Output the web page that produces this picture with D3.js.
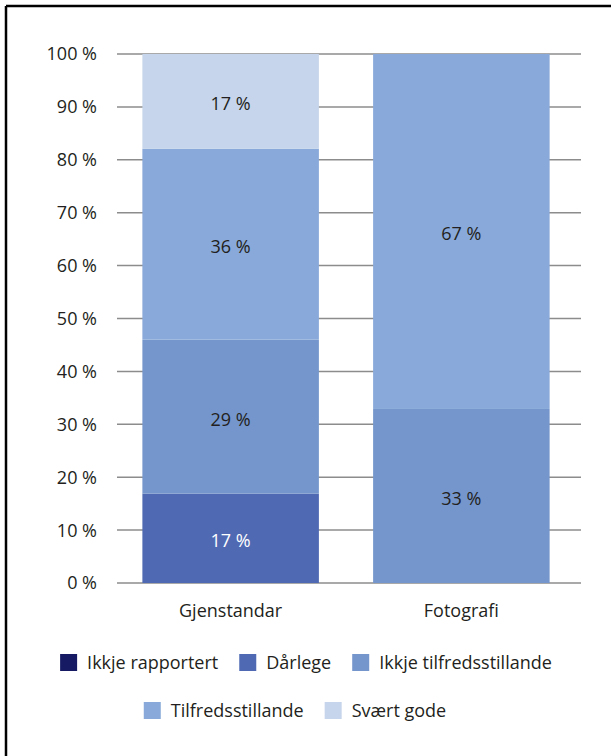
<!DOCTYPE html>
<html>
<head>
<meta charset="utf-8">
<script src="https://cdn.jsdelivr.net/npm/d3@7"></script>
<style>
  html, body { margin: 0; padding: 0; background: #fff; }
  svg { display: block; font-family: "Open Sans", "Noto Sans", sans-serif; }
</style>
</head>
<body>
<svg id="chart" width="611" height="756"></svg>
<script>
const categories = ["Gjenstandar", "Fotografi"];
const seriesNames = ["Ikkje rapportert", "Dårlege", "Ikkje tilfredsstillande", "Tilfredsstillande", "Svært gode"];
const seriesColors = ["#151a63", "#4f6ab3", "#7596cc", "#88a9d9", "#c6d5eb"];
const labelColors = ["#fff", "#fff", "#231f20", "#231f20", "#231f20"];
// values per series, in order of categories (bar heights)
const ikkjeRapportert = [0, 0];
const darlege = [16.9, 0];
const ikkjeTilfreds = [29.1, 32.9];
const tilfreds = [36.1, 67.1];
const svaertGode = [17.9, 0];
// printed value labels, as shown in the picture
const ikkjeRapportertLabels = [null, null];
const darlegeLabels = ["17 %", null];
const ikkjeTilfredsLabels = ["29 %", "33 %"];
const tilfredsLabels = ["36 %", "67 %"];
const svaertGodeLabels = ["17 %", null];
const yTicks = [0, 10, 20, 30, 40, 50, 60, 70, 80, 90, 100];

const seriesValues = [ikkjeRapportert, darlege, ikkjeTilfreds, tilfreds, svaertGode];
const seriesLabels = [ikkjeRapportertLabels, darlegeLabels, ikkjeTilfredsLabels, tilfredsLabels, svaertGodeLabels];
const rows = categories.map((c, i) => {
  const r = { cat: c, idx: i };
  seriesNames.forEach((s, j) => r[s] = seriesValues[j][i]);
  return r;
});

const FS = 18;
const svg = d3.select("#chart");
// frame
svg.append("line").attr("x1", 6).attr("x2", 611).attr("y1", 6).attr("y2", 6).attr("stroke", "#000").attr("stroke-width", 2.5);
svg.append("line").attr("x1", 6).attr("x2", 6).attr("y1", 6).attr("y2", 756).attr("stroke", "#000").attr("stroke-width", 2.5);

const x0 = 117, x1 = 581;
const y = d3.scaleLinear().domain([0, 100]).range([583, 54]);
const x = d3.scaleBand().domain(categories).range([x0, x1 - 6]).paddingInner(0.235).paddingOuter(0.11);

// grid
svg.append("g").selectAll("line").data(yTicks).join("line")
  .attr("x1", x0).attr("x2", x1)
  .attr("y1", d => y(d)).attr("y2", d => y(d))
  .attr("stroke", "#8c8c8c").attr("stroke-width", 1.5);

// y labels
svg.append("g").selectAll("text").data(yTicks).join("text")
  .attr("x", 97).attr("y", d => y(d)).attr("dy", "0.36em")
  .attr("text-anchor", "end").attr("font-size", FS).attr("fill", "#231f20")
  .text(d => d + " %");

const stack = d3.stack().keys(seriesNames)(rows);

const layers = svg.append("g").selectAll("g").data(stack).join("g")
  .attr("fill", (d, i) => seriesColors[i]);
layers.selectAll("rect").data(d => d).join("rect")
  .attr("x", d => x(d.data.cat))
  .attr("width", x.bandwidth())
  .attr("y", d => y(Math.min(d[1], 100)))
  .attr("height", d => Math.max(0, y(d[0]) - y(Math.min(d[1], 100))));

// value labels
stack.forEach((layer, i) => {
  svg.append("g").selectAll("text").data(layer.filter(d => seriesLabels[i][d.data.idx])).join("text")
    .attr("x", d => x(d.data.cat) + x.bandwidth() / 2)
    .attr("y", d => y((d[0] + Math.min(d[1], 100)) / 2))
    .attr("dy", "0.5em")
    .attr("text-anchor", "middle").attr("font-size", FS)
    .attr("fill", labelColors[i])
    .text(d => seriesLabels[i][d.data.idx]);
});

// x labels
svg.append("g").selectAll("text").data(categories).join("text")
  .attr("x", d => x(d) + x.bandwidth() / 2).attr("y", 617)
  .attr("text-anchor", "middle").attr("font-size", FS).attr("fill", "#231f20")
  .text(d => d);

// legend
const legendRows = [[0, 1, 2], [3, 4]];
const legendY = [663, 711];
const legendCenter = [306, 295];
const SQ = 17, GAP = 10, SPACE = 21;
legendRows.forEach((idxs, r) => {
  const g = svg.append("g");
  let cx = 0;
  const items = [];
  idxs.forEach(i => {
    const t = g.append("text").attr("font-size", FS).attr("fill", "#231f20").text(seriesNames[i]);
    const w = t.node().getComputedTextLength();
    items.push({ i, t, w, x: cx });
    cx += SQ + GAP + w + SPACE;
  });
  const total = cx - SPACE;
  const start = legendCenter[r] - total / 2;
  items.forEach(it => {
    g.append("rect").attr("x", start + it.x).attr("y", legendY[r] - 9).attr("width", SQ).attr("height", SQ)
      .attr("fill", seriesColors[it.i]);
    it.t.attr("x", start + it.x + SQ + GAP).attr("y", legendY[r]).attr("dy", "0.36em");
  });
});
</script>
</body>
</html>
